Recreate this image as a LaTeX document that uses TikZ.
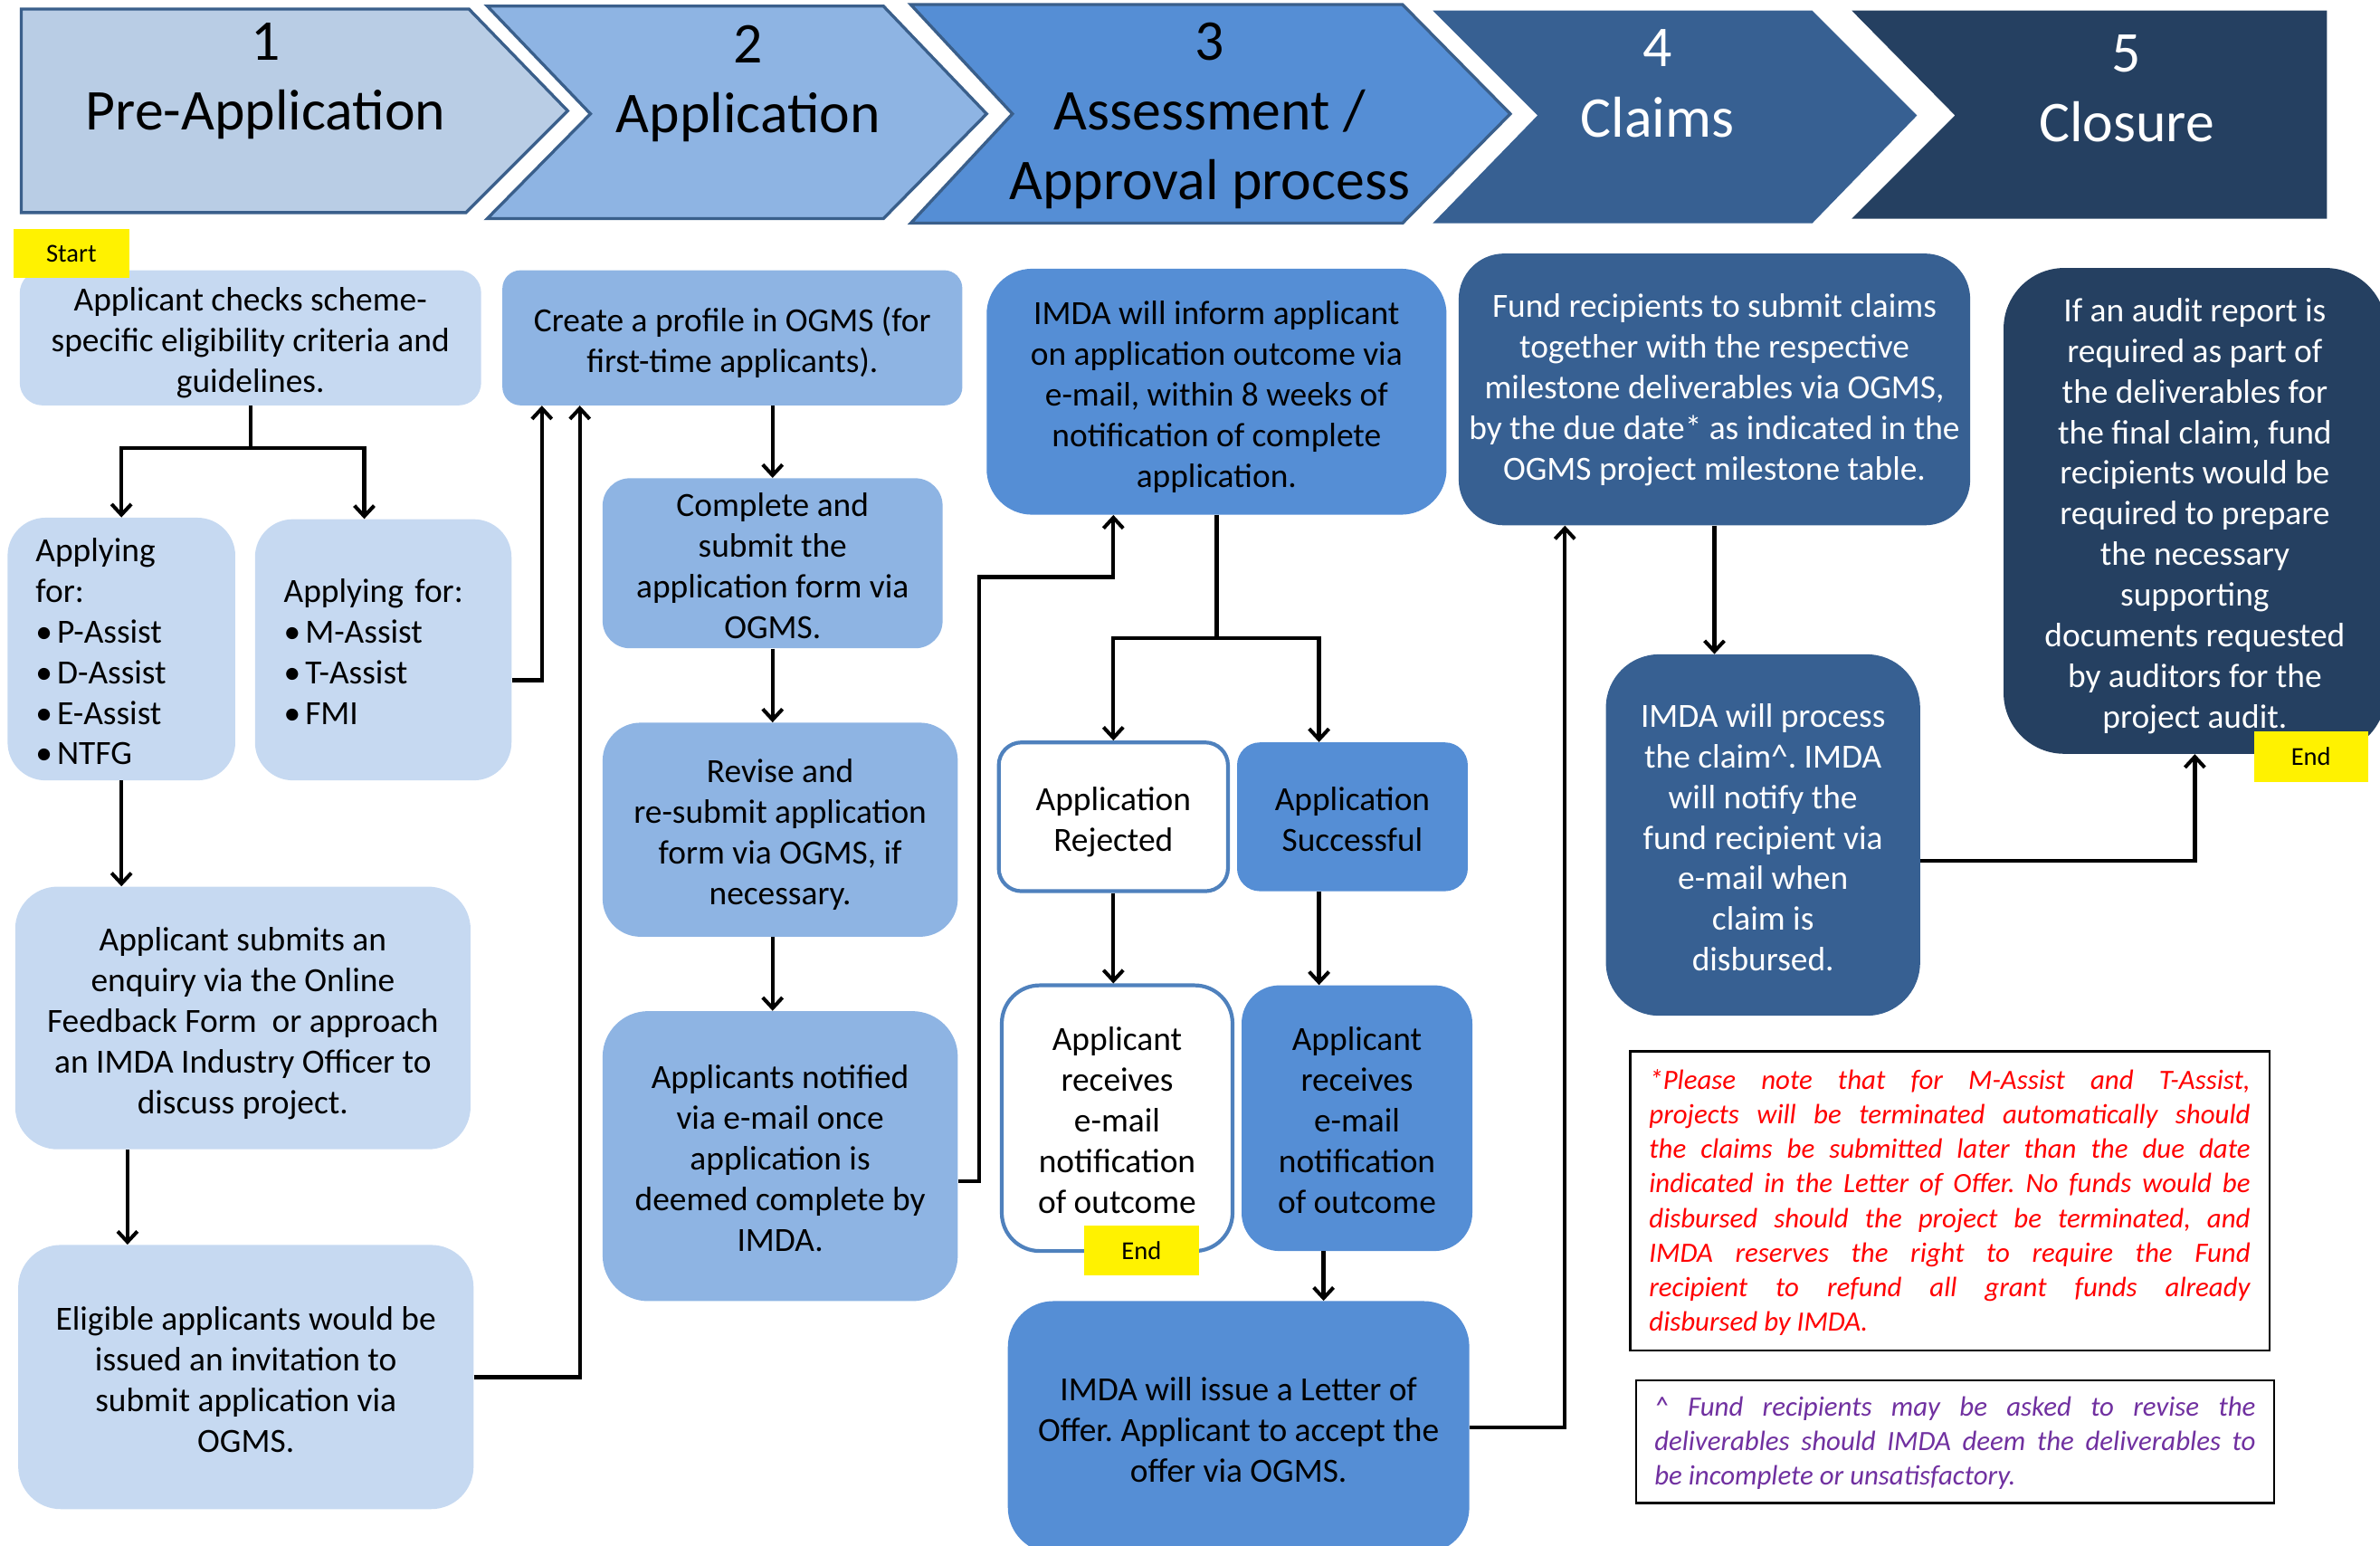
\documentclass[tikz,border=0pt]{standalone}
\usepackage{fontspec}
\setmainfont{Carlito}
\usetikzlibrary{arrows.meta}
\definecolor{c1}{HTML}{C6D9F1}
\definecolor{h1}{HTML}{B9CDE5}
\definecolor{c2}{HTML}{8EB4E3}
\definecolor{c3}{HTML}{558ED5}
\definecolor{c4}{HTML}{376092}
\definecolor{c5}{HTML}{254061}
\definecolor{bd}{HTML}{4F81BD}
\definecolor{hb}{HTML}{3A5F8B}
\definecolor{notered}{HTML}{FF0000}
\definecolor{notepurple}{HTML}{7030A0}
\newcommand\bodyfont{\fontsize{22.3}{26.8}\selectfont}
\newcommand\headfont{\fontsize{38}{46}\selectfont}
\newcommand\notefont{\fontsize{18.4}{22.8}\selectfont\itshape}
\newcommand\tagfont{\fontsize{17}{20}\selectfont}
\newcommand\TT{\rule{0pt}{24pt}}
\newcommand\BB{\rule[-5.5pt]{0pt}{5.5pt}}
\newcommand\BBO{\rule[-11.5pt]{0pt}{11.5pt}}
\newcommand\HT{\rule{0pt}{34pt}}
\newcommand\HB{\rule[-10.8pt]{0pt}{10.8pt}}
\newcommand\bul{•\hspace{3pt}}
\frenchspacing
\begin{document}
\begin{tikzpicture}[x=1pt,y=-1pt,
  box/.style={inner sep=0pt, align=center, font=\bodyfont},
  arr/.style={line width=2.6pt, -{Straight Barb[length=7pt,width=13pt,line width=2.4pt]}},
  tag/.style={fill=yellow, inner sep=0pt, font=\tagfont},
  head/.style={align=center, font=\headfont, inner sep=0pt},
  note/.style={draw=black, line width=1.3pt, inner sep=0pt, fill=white}
]
\useasboundingbox (0,0) rectangle (1568,1018);
\clip (0,0) rectangle (1568,1018);

% ---- header chevrons
\filldraw[fill=h1, draw=hb, line width=2pt] (14,6) -- (309,6) -- (374,73) -- (307,140) -- (14,140) -- cycle;
\filldraw[fill=c2, draw=hb, line width=2pt] (321,4) -- (582,4) -- (650,75) -- (582,144) -- (321,144) -- (389,75) -- cycle;
\filldraw[fill=c3, draw=hb, line width=2pt] (600,3) -- (924,3) -- (995,75) -- (924,147) -- (600,147) -- (667,75) -- cycle;
\fill[c4] (944,7) -- (1194,7) -- (1263,76) -- (1194,147) -- (944,147) -- (1013,76) -- cycle;
\fill[c5] (1220,7) -- (1533,7) -- (1533,144) -- (1220,144) -- (1288,76) -- cycle;

\node[head] (h1) at (175,51) {\HT 1\\Pre-Application\HB};
\node[head] (h2) at (493,53) {\HT 2\\Application\HB};
\node[head] (h3) at (797,74) {\HT 3\\Assessment /\\Approval process\HB};
\node[head, text=white] (h4) at (1092,55.5) {\HT 4\\Claims\HB};
\node[head, text=white] (h5) at (1401,58.5) {\HT 5\\Closure\HB};

% ---- column 1
\node[box, fill=c1, rounded corners=15pt, minimum width=304pt, minimum height=89pt] (A) at (165,222.5)
  {\TT Applicant checks scheme-\\specific eligibility criteria and\\guidelines.\BB};
\node[box, fill=c1, rounded corners=25pt, minimum width=150pt, minimum height=173pt, text width=113pt, align=left] (B1) at (80,427.5)
  {\TT Applying\\for:\\\bul P-Assist\\\bul D-Assist\\\bul E-Assist\\\bul NTFG\BB};
\node[box, fill=c1, rounded corners=25pt, minimum width=169pt, minimum height=172pt, text width=131pt, align=left] (B2) at (252.5,428)
  {\TT Applying for:\\\bul M-Assist\\\bul T-Assist\\\bul FMI\BB};
\node[box, fill=c1, rounded corners=28pt, minimum width=300pt, minimum height=173pt] (C) at (160,670.5)
  {\TT Applicant submits an\\enquiry via the Online\\Feedback Form\ \ or approach\\an IMDA Industry Officer to\\discuss project.\BB};
\node[box, fill=c1, rounded corners=28pt, minimum width=300pt, minimum height=174pt] (D) at (162,907)
  {\TT Eligible applicants would be\\issued an invitation to\\submit application via\\OGMS.\BB};

% ---- column 2
\node[box, fill=c2, rounded corners=12pt, minimum width=303pt, minimum height=89pt] (E) at (482.5,222.5)
  {\TT Create a profile in OGMS (for\\first-time applicants).\BB};
\node[box, fill=c2, rounded corners=18pt, minimum width=224pt, minimum height=112pt] (F) at (509,371)
  {\TT Complete and\\submit the\\application form via\\OGMS.\BB};
\node[box, fill=c2, rounded corners=25pt, minimum width=234pt, minimum height=141pt] (G) at (514,546.5)
  {\TT Revise and\\re-submit application\\form via OGMS, if\\necessary.\BB};
\node[box, fill=c2, rounded corners=30pt, minimum width=234pt, minimum height=191pt] (H) at (514,761.5)
  {\TT Applicants notified\\via e-mail once\\application is\\deemed complete by\\IMDA.\BB};

% ---- column 3
\node[box, fill=c3, rounded corners=30pt, minimum width=303pt, minimum height=162pt] (I) at (801.5,258)
  {\TT IMDA will inform applicant\\on application outcome via\\e-mail, within 8 weeks of\\notification of complete\\application.\BB};
\node[box, fill=white, draw=bd, line width=2.5pt, rounded corners=15pt, minimum width=151pt, minimum height=98pt] (J) at (733.5,538)
  {\TT Application\\Rejected\BB};
\node[box, fill=c3, rounded corners=15pt, minimum width=152pt, minimum height=98pt] (K) at (891,538)
  {\TT Application\\Successful\BB};
\node[box, fill=white, draw=bd, line width=2.5pt, rounded corners=25pt, minimum width=152pt, minimum height=175pt] (L) at (736,736.5)
  {\TT Applicant\\receives\\e-mail\\notification\\of outcome\BB};
\node[box, fill=c3, rounded corners=25pt, minimum width=152pt, minimum height=175pt] (M) at (894,736.5)
  {\TT Applicant\\receives\\e-mail\\notification\\of outcome\BB};
\node[box, fill=c3, rounded corners=30pt, minimum width=304pt, minimum height=166pt] (N) at (816,940)
  {\TT IMDA will issue a Letter of\\Offer. Applicant to accept the\\offer via OGMS.\BB};

% ---- column 4
\node[box, fill=c4, text=white, rounded corners=30pt, minimum width=337pt, minimum height=179pt] (O) at (1129.5,256.5)
  {\TT Fund recipients to submit claims\\together with the respective\\milestone deliverables via OGMS,\\by the due date* as indicated in the\\OGMS project milestone table.\BBO};
\node[box, fill=c4, text=white, rounded corners=35pt, minimum width=207pt, minimum height=238pt] (P) at (1161.5,550)
  {\TT IMDA will process\\the claim\textasciicircum. IMDA\\will notify the\\fund recipient via\\e-mail when\\claim is\\disbursed.\BB};

% ---- column 5
\node[box, fill=c5, text=white, rounded corners=40pt, minimum width=252pt, minimum height=320pt] (Q) at (1446,336.5)
  {\TT If an audit report is\\required as part of\\the deliverables for\\the final claim, fund\\recipients would be\\required to prepare\\the necessary\\supporting\\documents requested\\by auditors for the\\project audit.\BB};

% ---- notes
\node[note, minimum width=421pt, minimum height=197pt, text=notered] (n1) at (1284.5,791)
  {\parbox{396pt}{\vspace*{2pt}\notefont\tolerance=10000\relax
  *Please note that for M-Assist and T-Assist,\linebreak
  projects will be terminated automatically should\linebreak
  the claims be submitted later than the due date\linebreak
  indicated in the Letter of Offer. No funds would be\linebreak
  disbursed should the project be terminated, and\linebreak
  IMDA reserves the right to require the Fund\linebreak
  recipient to refund all grant funds already\linebreak
  disbursed by IMDA.}};
\node[note, minimum width=420pt, minimum height=81pt, text=notepurple] (n2) at (1288,949.5)
  {\parbox{396pt}{\vspace*{2pt}\notefont\tolerance=10000\relax
  \textasciicircum\ Fund recipients may be asked to revise the\linebreak
  deliverables should IMDA deem the deliverables to\linebreak
  be incomplete or unsatisfactory.}};

% ---- helper coordinates
\coordinate (x84) at (84,0);
\coordinate (x357) at (357,0);
\coordinate (x382) at (382,0);
\coordinate (p645) at (645,380);
\coordinate (x1031) at (1031,0);

% ---- connectors
\draw[arr] (A.south) -- ++(0,28) -| (B1.north);
\draw[arr] (A.south) -- ++(0,28) -| ([xshift=-12.5pt]B2.north);
\draw[arr] (B1.south) -- (B1.south |- C.north);
\draw[arr] (C.south -| x84) -- (D.north -| x84);
\draw[arr] ([yshift=-20pt]B2.east) -| (E.south -| x357);
\draw[arr] (D.east) -| (E.south -| x382);
\draw[arr] (E.south -| F.north) -- (F.north);
\draw[arr] (F.south) -- (F.south |- G.north);
\draw[arr] (G.south -| F.south) -- (H.north -| F.south);
\draw[arr] ([yshift=-16.5pt]H.east) -| (p645) -| (I.south -| J.north);
\draw[arr] (I.south) -- ++(0,81) -| (J.north);
\draw[arr] (I.south) -- ++(0,81) -| ([xshift=-22pt]K.north);
\draw[arr] (J.south) -- (J.south |- L.north);
\draw[arr] ([xshift=-22pt]K.south) -- ([xshift=-22pt]K.south |- M.north);
\draw[arr] ([xshift=-22pt]M.south) -- ([xshift=-22pt]M.south |- N.north);
\draw[arr] (N.east) -| (O.south -| x1031);
\draw[arr] (O.south) -- (O.south |- P.north);
\draw[arr] ([yshift=-17pt]P.east) -| (Q.south);

% ---- tags
\node[tag, minimum width=76pt, minimum height=32.5pt] (start) at (47,167) {Start};
\node[tag, minimum width=76pt, minimum height=33pt] (end1) at (752,823.5) {End};
\node[tag, minimum width=75pt, minimum height=33pt] (end2) at (1522.5,498.5) {End};
\end{tikzpicture}
\end{document}
